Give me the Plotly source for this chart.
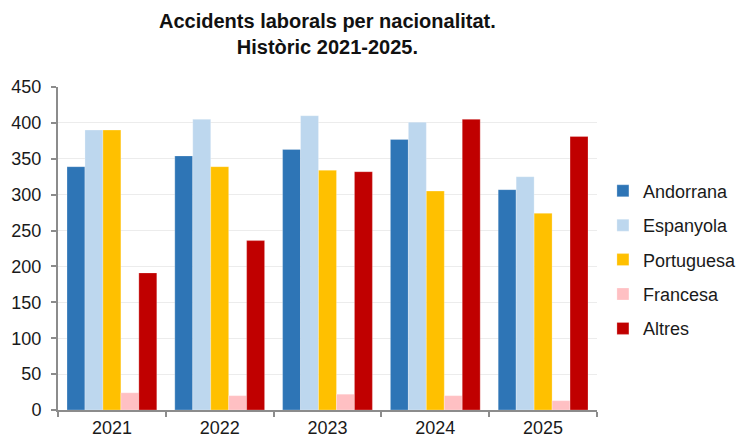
import plotly.graph_objects as go

years = ["2021", "2022", "2023", "2024", "2025"]
andorrana = [339, 354, 363, 377, 307]
espanyola = [390, 405, 410, 401, 325]
portuguesa = [390, 339, 334, 305, 274]
francesa = [24, 20, 22, 20, 13]
altres = [191, 236, 332, 405, 381]

series = [
    ("Andorrana", andorrana, "#2E75B6"),
    ("Espanyola", espanyola, "#BDD7EE"),
    ("Portuguesa", portuguesa, "#FFC000"),
    ("Francesa", francesa, "#FFC0C3"),
    ("Altres", altres, "#C00000"),
]

fig = go.Figure()
for i, (name, vals, col) in enumerate(series):
    fig.add_trace(go.Bar(
        x=years, y=vals, name=name, legendgroup=f"g{i}",
        marker=dict(color=col, line=dict(color="rgba(255,255,255,0.5)", width=0.5)),
    ))

font = "Liberation Sans, Arial, sans-serif"
fig.update_layout(
    width=742, height=439,
    margin=dict(l=58, r=145, t=87, b=29, autoexpand=False),
    paper_bgcolor="white", plot_bgcolor="white",
    barmode="group", bargap=0.167, bargroupgap=0,
    font=dict(family=font, size=18, color="#1a1a1a"),
    legend=dict(
        x=1.011, xref="paper", xanchor="left",
        y=0.735, yanchor="top",
        traceorder="grouped", tracegroupgap=8,
        font=dict(family=font, size=18, color="#1a1a1a"),
        itemclick=False,
    ),
    showlegend=True,
    annotations=[dict(
        text="<b>Accidents laborals per nacionalitat.<br>Històric 2021-2025.</b>",
        x=0.5, xref="paper", xanchor="center",
        y=(410 - 34) / 323, yref="paper", yanchor="middle",
        showarrow=False,
        font=dict(family=font, size=20, color="#111"),
    )],
)
fig.update_xaxes(
    showline=True, linecolor="#8c8c8c", linewidth=2,
    ticks="outside", tickson="boundaries", ticklen=5, tickwidth=2, tickcolor="#8c8c8c",
    showgrid=False, tickfont=dict(size=18),
)
fig.update_yaxes(
    range=[0, 450], dtick=50,
    showline=True, linecolor="#8c8c8c", linewidth=2,
    ticks="outside", ticklen=5, tickwidth=2, tickcolor="#8c8c8c",
    showgrid=True, gridcolor="#ececec", gridwidth=1,
    zeroline=False, tickfont=dict(size=18), ticklabelstandoff=6,
)

fig.write_html(
    "out.html",
    config={"displayModeBar": False},
    post_script="document.body.style.margin='0';document.body.style.padding='0';",
)
